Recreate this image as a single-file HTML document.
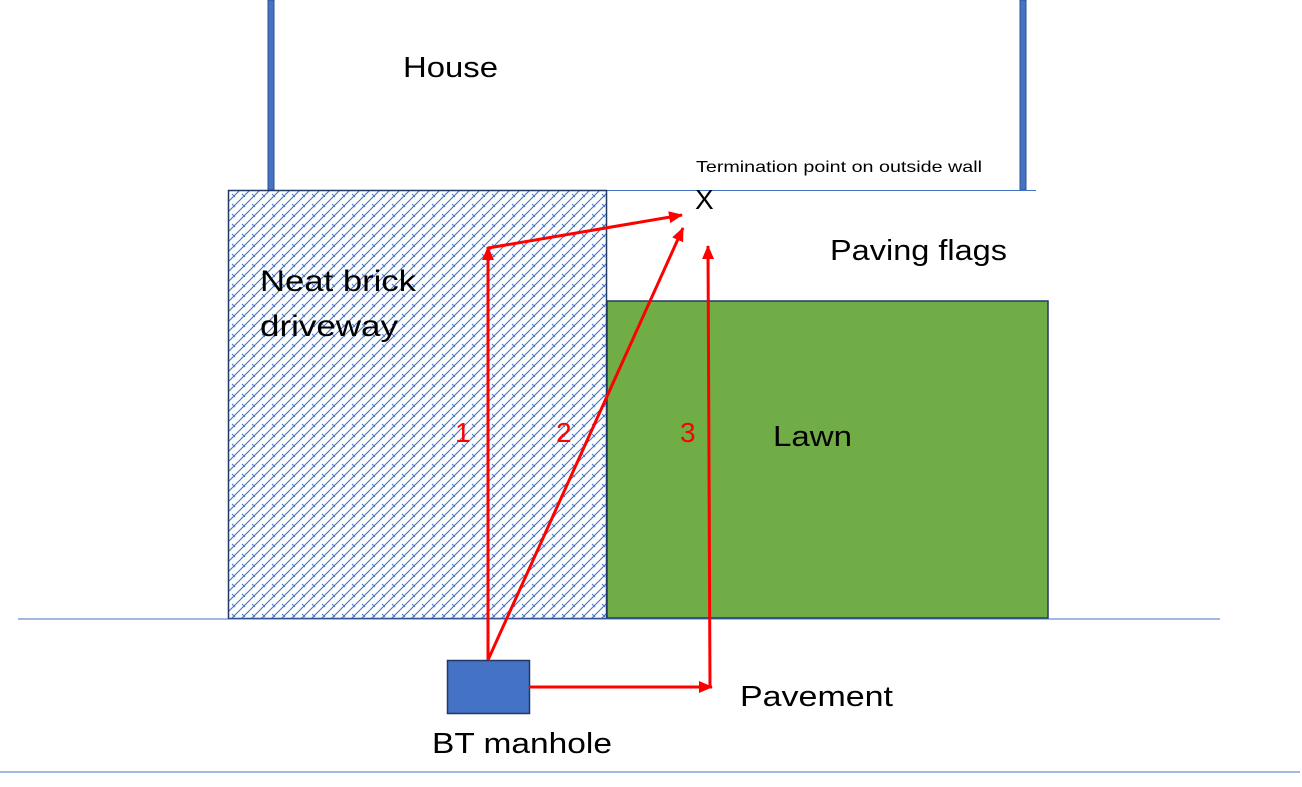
<!DOCTYPE html>
<html><head><meta charset="utf-8"><style>
html,body{margin:0;padding:0;background:#fff;}
svg{display:block;}
text{font-family:"Liberation Sans",sans-serif;}
</style></head><body>
<svg width="1302" height="787" viewBox="0 0 1302 787" xmlns="http://www.w3.org/2000/svg">
<defs>
<pattern id="brick" width="10" height="10" patternUnits="userSpaceOnUse">
<rect width="10" height="10" fill="#fff"/>
<path d="M0 10 L10 0 M-2 2 L2 -2 M8 12 L12 8" stroke="#4472c4" stroke-width="1.1" fill="none"/>
<path d="M2 4 L5 7" stroke="#4472c4" stroke-width="1" fill="none"/>
</pattern>
<marker id="ah" markerWidth="14" markerHeight="12" refX="13" refY="6" orient="auto" markerUnits="userSpaceOnUse">
<path d="M0 0 L14 6 L0 12 Z" fill="#ff0000"/>
</marker>
</defs>
<rect x="268" y="0" width="6" height="190" fill="#4472c4" stroke="#2f528f" stroke-width="1"/>
<rect x="1020" y="0" width="6" height="190" fill="#4472c4" stroke="#2f528f" stroke-width="1"/>
<line x1="607" y1="190.5" x2="1036" y2="190.5" stroke="#4472c4" stroke-width="1"/>
<rect x="228.5" y="190.5" width="378" height="428" fill="url(#brick)" stroke="#203864" stroke-width="1.5"/>
<rect x="607" y="301" width="441" height="317" fill="#70ad47" stroke="#203864" stroke-width="1.5"/>
<line x1="18" y1="619" x2="1220" y2="619" stroke="#4472c4" stroke-width="1"/>
<line x1="0" y1="772" x2="1300" y2="772" stroke="#4472c4" stroke-width="1"/>
<rect x="447.5" y="660.5" width="82" height="53" fill="#4472c4" stroke="#203864" stroke-width="1.5"/>
<g stroke="#ff0000" stroke-width="3" fill="none">
<line x1="488" y1="660" x2="488" y2="247" marker-end="url(#ah)"/>
<line x1="488" y1="248" x2="682" y2="215" marker-end="url(#ah)"/>
<line x1="488" y1="660" x2="683" y2="228" marker-end="url(#ah)"/>
<line x1="529" y1="687" x2="712" y2="687" marker-end="url(#ah)"/>
<line x1="710" y1="687" x2="708" y2="246" marker-end="url(#ah)"/>
</g>
<text x="403" y="77" font-size="29" textLength="95" lengthAdjust="spacingAndGlyphs">House</text>
<text x="696" y="172" font-size="16" textLength="286" lengthAdjust="spacingAndGlyphs">Termination point on outside wall</text>
<text x="695" y="209" font-size="28">X</text>
<text x="830" y="260" font-size="29" textLength="177" lengthAdjust="spacingAndGlyphs">Paving flags</text>
<text x="260" y="291" font-size="30" textLength="156" lengthAdjust="spacingAndGlyphs">Neat brick</text>
<text x="260" y="336" font-size="30" textLength="138" lengthAdjust="spacingAndGlyphs">driveway</text>
<text x="773" y="446" font-size="29" textLength="79" lengthAdjust="spacingAndGlyphs">Lawn</text>
<text x="455" y="442" font-size="28" fill="#ff0000">1</text>
<text x="556" y="442" font-size="28" fill="#ff0000">2</text>
<text x="680" y="442" font-size="28" fill="#ff0000">3</text>
<text x="740" y="706" font-size="29" textLength="153" lengthAdjust="spacingAndGlyphs">Pavement</text>
<text x="432" y="753" font-size="29" textLength="180" lengthAdjust="spacingAndGlyphs">BT manhole</text>
</svg>
</body></html>
